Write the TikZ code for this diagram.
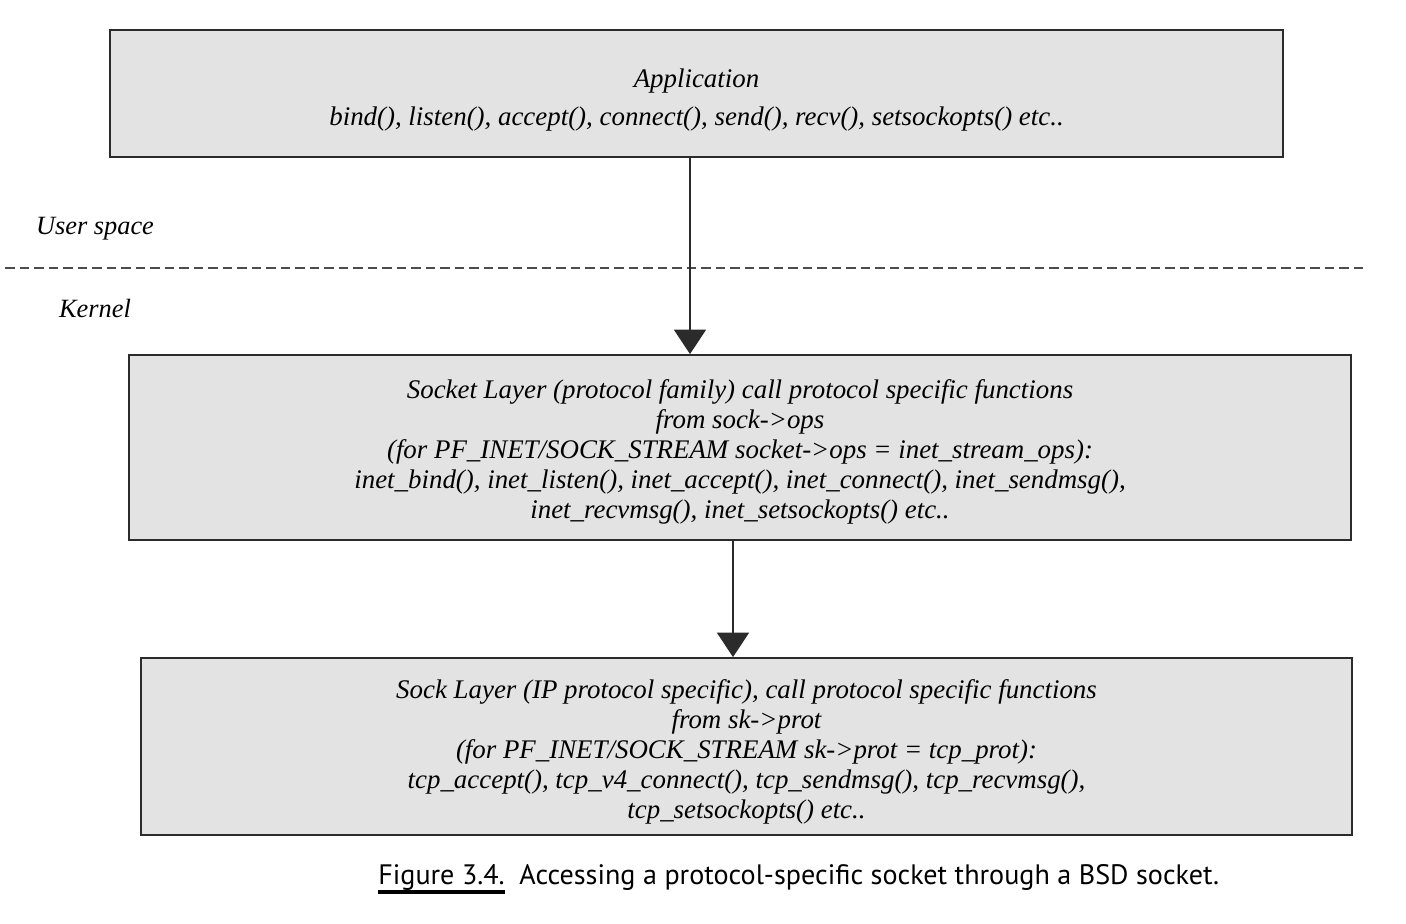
\documentclass[tikz,border=0pt]{standalone}
\usepackage{fontspec}
\setmainfont{Liberation Serif}
\newfontfamily\capfont{PT Sans}
\usetikzlibrary{arrows.meta}
\definecolor{boxgray}{HTML}{E3E3E3}
\definecolor{linegray}{HTML}{2B2B2B}
\begin{document}
\begin{tikzpicture}[
    layer/.style={draw=linegray, line width=1pt, fill=boxgray, align=center,
      inner sep=0pt, font=\itshape\fontsize{15.3}{17}\selectfont},
    arr/.style={draw=linegray, line width=0.9pt,
      -{Triangle[length=0.49cm,width=0.64cm]}},
    side/.style={font=\itshape\fontsize{15}{18}\selectfont}
  ]
  \useasboundingbox (0,0) rectangle (28.12,-18.48);

  % the three layers
  \node[layer, minimum width=23.46cm, minimum height=2.54cm,
    font=\itshape\fontsize{15.3}{21.6}\selectfont] (app) at (13.93,-1.87)
    {\rule{0pt}{0.62cm}Application\\
     bind(), listen(), accept(), connect(), send(), recv(), setsockopts() etc..};
  \node[layer, minimum width=24.44cm, minimum height=3.7cm] (socket) at (14.8,-8.95)
    {\rule{0pt}{0.56cm}Socket Layer (protocol family) call protocol specific functions\\
     from sock->ops\\
     (for PF\_INET/SOCK\_STREAM socket->ops = inet\_stream\_ops):\\
     inet\_bind(), inet\_listen(), inet\_accept(), inet\_connect(), inet\_sendmsg(),\\
     inet\_recvmsg(), inet\_setsockopts() etc..};
  \node[layer, minimum width=24.22cm, minimum height=3.54cm] (sock) at (14.93,-14.93)
    {\rule{0pt}{0.6cm}Sock Layer (IP protocol specific), call protocol specific functions\\
     from sk->prot\\
     (for PF\_INET/SOCK\_STREAM sk->prot = tcp\_prot):\\
     tcp\_accept(), tcp\_v4\_connect(), tcp\_sendmsg(), tcp\_recvmsg(),\\
     tcp\_setsockopts() etc..};

  % user space / kernel split
  \node[side] (user) at (1.9,-4.58) {User space};
  \node[side] (kernel) at (1.9,-6.16) {Kernel};
  \coordinate (sl) at (0.1,-5.36);
  \coordinate (sr) at (27.3,-5.36);
  \draw[black!70, line width=1.3pt, dash pattern=on 0.19cm off 0.1cm] (sl) -- (sr);

  % calls down
  \coordinate (a1) at (13.8,0);
  \coordinate (a2) at (14.66,0);
  \draw[arr] (app.south -| a1) -- (socket.north -| a1);
  \draw[arr] (socket.south -| a2) -- (sock.north -| a2);

  % caption
  \node[anchor=base west, inner sep=0pt, font=\capfont\fontsize{16}{19}\selectfont]
    (fig) at (7.56,-17.68) {Figure 3.4.};
  \node[anchor=base west, inner sep=0pt, font=\capfont\fontsize{16}{19}\selectfont]
    (capt) at ([xshift=0.28cm]fig.base east)
    {Accessing a protocol-specific socket through a BSD socket.};
  \draw[line width=1.8pt] ([yshift=-0.16cm]fig.base west) -- ([yshift=-0.16cm]fig.base east);
\end{tikzpicture}
\end{document}
